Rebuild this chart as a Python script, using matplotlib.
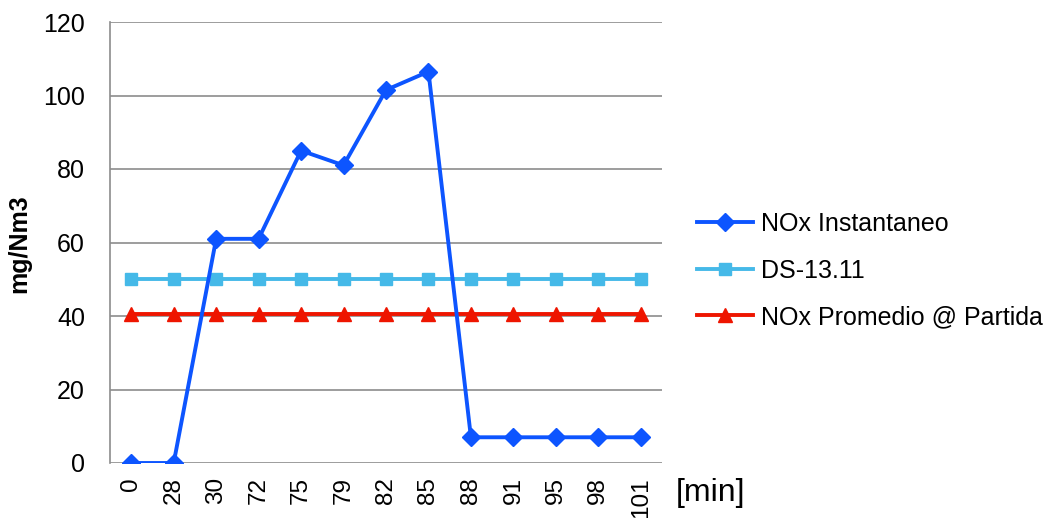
import matplotlib
matplotlib.use("Agg")
import matplotlib.pyplot as plt

plt.rcParams['font.family'] = ['Liberation Sans', 'DejaVu Sans']

categories = ["0", "28", "30", "72", "75", "79", "82", "85", "88", "91", "95", "98", "101"]
nox_inst = [0, 0, 61, 61, 85, 81, 101.5, 106.5, 7, 7, 7, 7, 7]
ds_1311 = [50] * 13
nox_prom = [40.5] * 13
y_ticks = [0, 20, 40, 60, 80, 100, 120]

fig = plt.figure(figsize=(10.6, 5.18), dpi=100)
ax = fig.add_axes([110/1060, (518-463)/518, (662-110)/1060, (463-22)/518])

x = list(range(len(categories)))
ax.plot(x, nox_inst, color='#0d55ff', lw=2.8, marker='D', ms=9, label='NOx Instantaneo', zorder=5)
ax.plot(x, ds_1311, color='#45b9e8', lw=2.8, marker='s', ms=9, label='DS-13.11', zorder=4)
ax.plot(x, nox_prom, color='#ee1500', lw=2.8, marker='^', ms=10, label='NOx Promedio @ Partida', zorder=4)

ax.set_xlim(-0.5, len(categories) - 0.5)
ax.set_ylim(0, 120)
ax.set_yticks(y_ticks)
ax.set_xticks(x)
ax.set_xticklabels(categories, rotation=90)
ax.tick_params(axis='both', length=0, labelsize=18, colors='black')
ax.tick_params(axis='y', pad=18)
ax.tick_params(axis='x', pad=10, labelsize=17.5)
ax.yaxis.grid(True, color='#8c8c8c', lw=1.2)
ax.set_axisbelow(True)
for s in ['top', 'right', 'bottom']:
    ax.spines[s].set_visible(False)
ax.spines['left'].set_color('#8c8c8c')
ax.spines['left'].set_linewidth(1.2)

fig.text(19/1060, 1 - 244/518, 'mg/Nm3', fontsize=18, fontweight='bold', rotation=90,
         va='center', ha='center')
fig.text(676/1060, 1 - 493/518, '[min]', fontsize=23, va='center', ha='left')

leg = fig.legend(loc='upper left', bbox_to_anchor=(697/1060, 1 - 212/518), frameon=False,
                 fontsize=18, handlelength=2.25, handletextpad=0.3, labelspacing=0.9,
                 borderaxespad=0, borderpad=0)

fig.savefig('out.png', dpi=100)
